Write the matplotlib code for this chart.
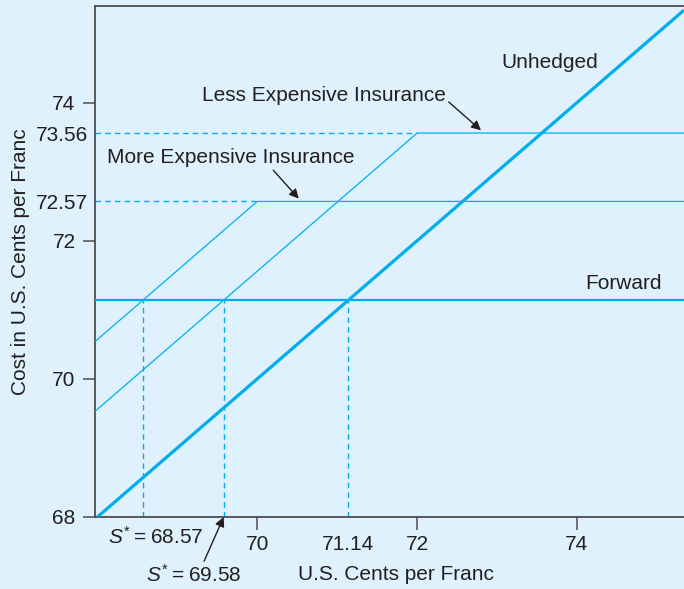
import numpy as np
import matplotlib.pyplot as plt

plt.rcParams['font.family'] = ['Liberation Sans', 'DejaVu Sans']
plt.rcParams['mathtext.fontset'] = 'custom'
plt.rcParams['mathtext.it'] = 'Liberation Sans:italic'
plt.rcParams['mathtext.rm'] = 'Liberation Sans'

# Hedging data (U.S. cents per franc)
forward_rate = 71.14
strikes = [72, 70]              # less / more expensive insurance
premiums = [1.56, 2.57]
caps = [73.56, 72.57]
breakevens = [69.58, 68.57]

x_ticks = [70, 71.14, 72, 74]
y_ticks = [68, 70, 72, 72.57, 73.56, 74]

bg = '#dff1fc'
blue = '#00aeef'
ink = '#231f20'
fs = 15

fig = plt.figure(figsize=(6.84, 5.89), dpi=100, facecolor=bg)
ax = fig.add_axes([95 / 684, 72 / 589, 1 - 95 / 684, 511 / 589])
ax.set_facecolor(bg)

xmin, xmax = 67.97, 75.34
ymin, ymax = 68.0, 75.4
ax.set_xlim(xmin, xmax)
ax.set_ylim(ymin, ymax)

S = np.linspace(68.0, xmax, 400)

# unhedged
ax.plot(S, S, color=blue, lw=2.3, solid_capstyle='butt', zorder=4)
# forward
ax.axhline(forward_rate, color=blue, lw=1.6, zorder=3)
# insurance (call options)
for k, p in zip(strikes, premiums):
    xs = np.linspace(xmin, xmax, 800)
    cost = np.minimum(xs, k) + p
    ax.plot(xs, cost, color=blue, lw=0.9, zorder=3)

# dashed guides
dash = dict(color=blue, lw=1.0, ls=(0, (4, 3)), zorder=2)
for k, c in zip(strikes, caps):
    ax.plot([xmin, k], [c, c], **dash)
for b in breakevens + [forward_rate]:
    ax.plot([b, b], [ymin, forward_rate], **dash)

# axes styling
ax.spines['right'].set_visible(False)
for side in ['left', 'bottom', 'top']:
    ax.spines[side].set_color('#4d4d4d')
    ax.spines[side].set_linewidth(1.3)

ax.set_xticks(x_ticks)
ax.set_xticklabels(['70', '71.14', '72', '74'])
ax.set_yticks(y_ticks)
ax.set_yticklabels(['68', '70', '72', '72.57', '73.56', '74'])
ax.tick_params(axis='both', direction='out', length=9, width=1.1, color='#4d4d4d',
               labelsize=fs, labelcolor=ink, pad=5)
ax.tick_params(axis='x', pad=4)
ax.xaxis.get_major_ticks()[1].tick1line.set_visible(False)
for i in [3, 4]:
    t = ax.yaxis.get_major_ticks()[i]
    t.tick1line.set_visible(False)
    t.set_pad(-4)

ax.set_ylabel('Cost in U.S. Cents per Franc', fontsize=fs, color=ink, labelpad=4)

# labels
txt = dict(fontsize=fs, color=ink)
xt = ax.get_xaxis_transform()
ax.text(71.73, -0.1135, 'U.S. Cents per Franc', transform=xt,
        ha='center', va='center', **txt)
ax.text(73.05, 74.58, 'Unhedged', va='center', ha='left', **txt)
ax.text(74.1, 71.38, 'Forward', va='center', ha='left', **txt)
ax.annotate('Less Expensive Insurance', xy=(72.8, 73.6), xytext=(69.31, 74.1),
            va='center', ha='left',
            arrowprops=dict(arrowstyle='-|>', color=ink, lw=1.0, mutation_scale=14,
                            shrinkA=0, shrinkB=0, relpos=(1.0, 0.3)),
            **txt)
ax.annotate('More Expensive Insurance', xy=(70.52, 72.61), xytext=(68.125, 73.2),
            va='center', ha='left',
            arrowprops=dict(arrowstyle='-|>', color=ink, lw=1.0, mutation_scale=14,
                            shrinkA=0, shrinkB=0, relpos=(0.66, 0.0)),
            **txt)

ax.text(68.725, -0.039, r'$S^{*}$' + '\u2009=\u200968.57', transform=xt,
        ha='center', va='center', **txt)
ax.annotate(r'$S^{*}$' + '\u2009=\u200969.58', xy=(69.58, 0.0), xycoords=xt,
            xytext=(69.2, -0.1135), textcoords=xt, ha='center', va='center',
            arrowprops=dict(arrowstyle='-|>', color=ink, lw=1.0, mutation_scale=14,
                            shrinkA=0, shrinkB=0, relpos=(0.6, 1.0)),
            annotation_clip=False, **txt)

fig.savefig('out.png', dpi=100, facecolor=bg)
